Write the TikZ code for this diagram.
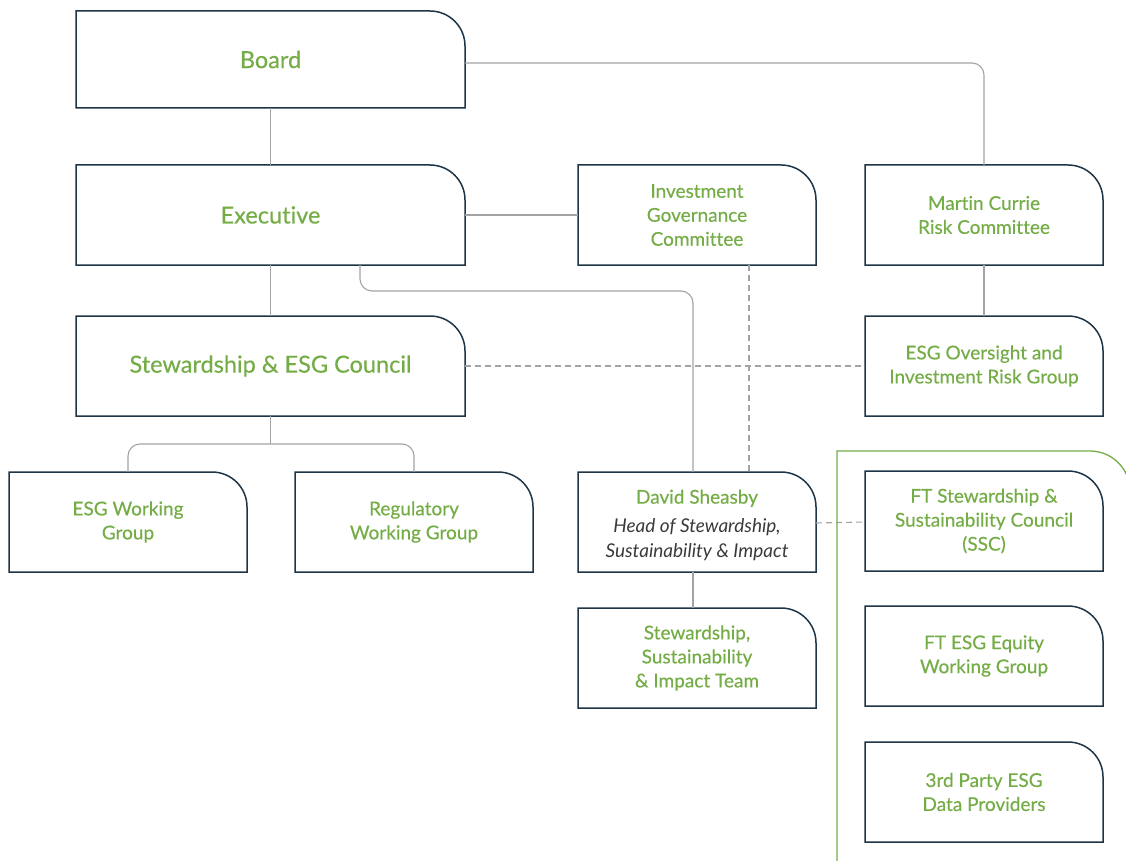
\documentclass[tikz,border=0pt]{standalone}
\usepackage{fontspec}
\setmainfont{Lato}[FakeBold=0.35,Ligatures=NoCommon]
\newfontfamily\plainlato{Lato}[Ligatures=NoCommon]
\usetikzlibrary{calc}
\definecolor{ogreen}{HTML}{74AC46}
\definecolor{onavy}{HTML}{1D3547}
\definecolor{ogray}{HTML}{A3A3A6}
\definecolor{otext}{HTML}{3A3A3A}
\tikzset{
  orgbox/.style={rectangle,draw=none,inner sep=0pt,outer sep=0pt,align=center,text=ogreen},
  bigbox/.style={orgbox,minimum width=389pt,minimum height=100pt,font=\fontsize{23.5}{28}\selectfont},
  smallbox/.style={orgbox,minimum width=238pt,minimum height=100pt,font=\fontsize{19}{24}\selectfont},
  conn/.style={draw=ogray,line width=1.1pt},
  dconn/.style={draw=ogray,line width=1.1pt,dash pattern=on 6pt off 4pt},
  outline/.style={draw=onavy,line width=1.5pt},
  bracketline/.style={draw=ogreen,line width=1.3pt}
}
\begin{document}
\begin{tikzpicture}[x=1pt,y=-1pt]
\useasboundingbox (0,0) rectangle (1126,861);
% nodes
\node[bigbox,minimum height=97pt] (board) at (270.5,59.5) {Board};
\node[bigbox] (exec) at (270.5,215) {Executive};
\node[bigbox] (council) at (270.5,366) {Stewardship \& ESG Council};
\node[smallbox] (igc) at (697,215) {Investment\\Governance\\Committee};
\node[smallbox] (mcrc) at (984,215) {Martin Currie\\Risk Committee};
\node[smallbox] (esgo) at (984,366) {ESG Oversight and\\Investment Risk Group};
\node[smallbox] (esgwg) at (128,522) {ESG Working\\Group};
\node[smallbox] (reg) at (414,522) {Regulatory\\Working Group};
\node[smallbox] (david) at (697,522) {\rule{0pt}{20.5pt}David Sheasby\\[5pt]\plainlato\itshape\color{otext}\fontsize{19}{24}\selectfont Head of Stewardship,\\[1pt]\plainlato\itshape\color{otext}\fontsize{19}{24}\selectfont Sustainability \& Impact};
\node[smallbox] (ssi) at (697,658) {Stewardship,\\Sustainability\\\& Impact Team};
\node[smallbox] (ftssc) at (984,521) {FT Stewardship \&\\Sustainability Council\\(SSC)};
\node[smallbox] (fteq) at (984,656) {FT ESG Equity\\Working Group};
\node[smallbox] (third) at (984,792) {3rd Party ESG\\Data Providers};
% outlines with rounded top-right corner
\foreach \n in {board,exec,council,igc,mcrc,esgo,esgwg,reg,david,ssi,ftssc,fteq,third}{
  \draw[outline] (\n.south west) -- (\n.north west) -- ([xshift=-35pt]\n.north east)
    arc[start angle=90,end angle=0,radius=35pt] -- (\n.south east) -- cycle;
}
% connectors
\draw[conn,rounded corners=12pt] ([yshift=-3.5pt]board.east) -| (mcrc.north);
\draw[conn] (board.south) -- (exec.north);
\draw[conn] (exec.east) -- (igc.west);
\draw[conn] (exec.south) -- (council.north);
\draw[conn,rounded corners=12pt] ([xshift=89.5pt]exec.south) -- ++(0,26) -| ([xshift=-4pt]david.north);
\draw[conn] (council.south) -- ++(0,28) coordinate (cj);
\draw[conn,rounded corners=12pt] (esgwg.north) |- (cj) -| (reg.north);
\draw[dconn] ([xshift=52pt]igc.south) -- ([xshift=52pt]david.north);
\draw[dconn] (council.east) -- (esgo.west);
\draw[conn] (mcrc.south) -- (esgo.north);
\draw[dconn] ([yshift=-1pt]david.east) -- (david.east -| ftssc.west);
\draw[conn] ([xshift=-4pt]david.south) -- ([xshift=-4pt]ssi.north);
% green bracket
\begin{scope}
\clip (0,0) rectangle (1126,861);
\draw[bracketline] (837,870) -- (837,451) -- (1090,451) arc[start angle=90,end angle=0,radius=40pt];
\end{scope}
\end{tikzpicture}
\end{document}
